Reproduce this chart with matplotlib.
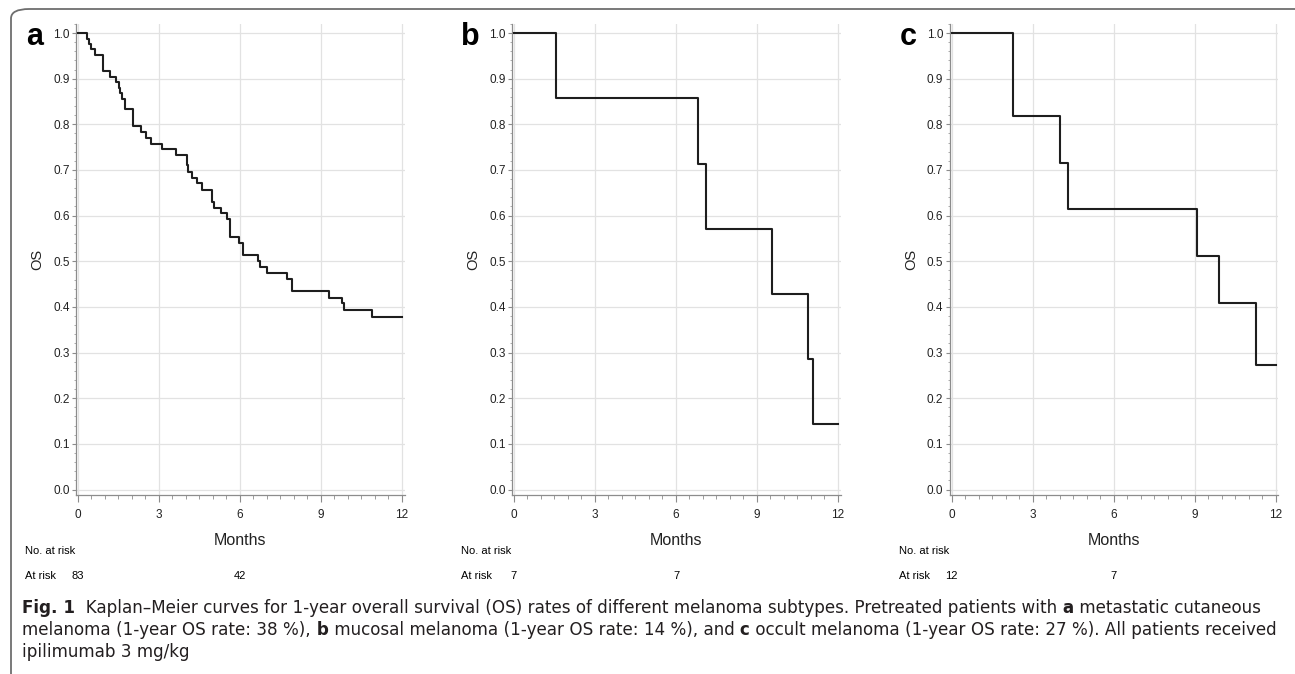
import matplotlib
matplotlib.use("Agg")
import numpy as np
from matplotlib import pyplot as plt
from matplotlib.patches import FancyBboxPatch
from matplotlib.ticker import MultipleLocator

plt.rcParams['font.family'] = ['Liberation Sans', 'DejaVu Sans']

# Kaplan-Meier step data (months, OS)
a_times = [0, 0.34, 0.41, 0.49, 0.62, 0.93, 1.18, 1.40, 1.52, 1.57, 1.64, 1.74,
           2.04, 2.35, 2.51, 2.72, 3.12, 3.62, 4.03, 4.07, 4.24, 4.42, 4.60,
           4.98, 5.02, 5.29, 5.53, 5.62, 5.95, 6.11, 6.66, 6.75, 7.00, 7.74,
           7.92, 9.31, 9.77, 9.87, 10.88]
a_surv = [1.0, 0.988, 0.976, 0.964, 0.952, 0.916, 0.904, 0.892, 0.880, 0.868,
          0.855, 0.833, 0.797, 0.783, 0.771, 0.757, 0.745, 0.733, 0.710, 0.695,
          0.683, 0.671, 0.656, 0.630, 0.617, 0.605, 0.593, 0.553, 0.540, 0.514,
          0.500, 0.488, 0.475, 0.462, 0.434, 0.420, 0.408, 0.393, 0.378]

b_times = [0, 1.55, 6.83, 7.10, 9.57, 10.89, 11.06]
b_surv = [1.0, 0.857, 0.714, 0.571, 0.429, 0.286, 0.143]

c_times = [0, 2.28, 4.03, 4.32, 9.09, 9.89, 11.27]
c_surv = [1.0, 0.818, 0.716, 0.614, 0.511, 0.409, 0.273]

risk_months = [0, 6]
a_risk = [83, 42]
b_risk = [7, 7]
c_risk = [12, 7]

panel_letters = ['a', 'b', 'c']
x_ticks = [0, 3, 6, 9, 12]
y_ticks = np.arange(0, 1.01, 0.1)

W, H = 1295, 674
fig = plt.figure(figsize=(W / 100, H / 100), dpi=100)

# outer frame of the figure box
frame = FancyBboxPatch((11 / W, -0.02), 1.02, 1 - 9 / H + 0.02,
                       boxstyle="round,pad=0,rounding_size=0.014",
                       transform=fig.transFigure, fill=False,
                       edgecolor='#6e6e6e', linewidth=1.3, clip_on=False)
fig.patches.append(frame)

gray = '#8c8c8c'
lefts = [75.8, 511.8, 949.5]
data = [(a_times, a_surv, a_risk), (b_times, b_surv, b_risk), (c_times, c_surv, c_risk)]

for i in range(3):
    times, surv, risk = data[i]
    ax = fig.add_axes([lefts[i] / W, 1 - 495 / H, 328.9 / W, 471.1 / H])
    x = list(times) + [12]
    y = list(surv) + [surv[-1]]
    ax.step(x, y, where='post', color='#1e1e1e', linewidth=1.5, zorder=3)

    ax.set_xlim(-0.08, 12.1)
    ax.set_ylim(-0.012, 1.02)
    ax.set_xticks(x_ticks)
    ax.set_yticks(y_ticks)
    ax.set_yticklabels(['%.1f' % v for v in y_ticks])
    ax.xaxis.set_minor_locator(MultipleLocator(0.5))
    ax.yaxis.set_minor_locator(MultipleLocator(0.02))
    ax.grid(True, which='major', color='#e2e2e2', linewidth=0.9)
    ax.set_axisbelow(True)
    for s in ['top', 'right']:
        ax.spines[s].set_visible(False)
    for s in ['left', 'bottom']:
        ax.spines[s].set_color(gray)
        ax.spines[s].set_linewidth(0.9)
    ax.tick_params(axis='x', which='major', length=5, width=0.8, color=gray,
                   labelsize=8.5, pad=5, labelcolor='#222222')
    ax.tick_params(axis='x', which='minor', length=3, width=0.6, color=gray)
    ax.tick_params(axis='y', which='major', length=3, width=0.8, color=gray,
                   labelsize=8.5, pad=1.5, labelcolor='#222222')
    ax.tick_params(axis='y', which='minor', length=1.5, width=0.5, color=gray)

    ax.set_xlabel('Months', fontsize=11.5, labelpad=9, color='#222222')
    ax.set_ylabel('OS', fontsize=10.5, labelpad=6, color='#222222')

    # panel letter
    ax.text(-0.125, 0.972, panel_letters[i], transform=ax.transAxes,
            fontsize=22, fontweight='bold', ha='center', va='center')

    # number at risk table
    tr = ax.get_xaxis_transform()
    ax.text(-1.95, -0.118, 'No. at risk', transform=tr, fontsize=8,
            ha='left', va='center', clip_on=False)
    ax.text(-1.95, -0.172, 'At risk', transform=tr, fontsize=8,
            ha='left', va='center', clip_on=False)
    for m, n in zip(risk_months, risk):
        ax.text(m, -0.172, str(n), transform=tr, fontsize=8,
                ha='center', va='center', clip_on=False)

# caption with bold pieces (spaces kept at the start of each piece)
cap_lines = [
    [("Fig. 1", True), ("  Kaplan–Meier curves for 1-year overall survival (OS) rates of different melanoma subtypes. Pretreated patients with", False),
     (" a", True), (" metastatic cutaneous", False)],
    [("melanoma (1-year OS rate: 38 %),", False), (" b", True),
     (" mucosal melanoma (1-year OS rate: 14 %), and", False), (" c", True),
     (" occult melanoma (1-year OS rate: 27 %). All patients received", False)],
    [("ipilimumab 3 mg/kg", False)],
]
cap_y = [608, 630, 652]

renderer = fig.canvas.get_renderer()
for line, yy in zip(cap_lines, cap_y):
    xpix = 22
    for txt, bold in line:
        t = fig.text(xpix / W, 1 - yy / H, txt, fontsize=12.1,
                     fontweight='bold' if bold else 'normal',
                     family=['DejaVu Sans'],
                     ha='left', va='center', color='#231f20')
        bb = t.get_window_extent(renderer)
        xpix += bb.width

fig.savefig('out.png', dpi=100)
